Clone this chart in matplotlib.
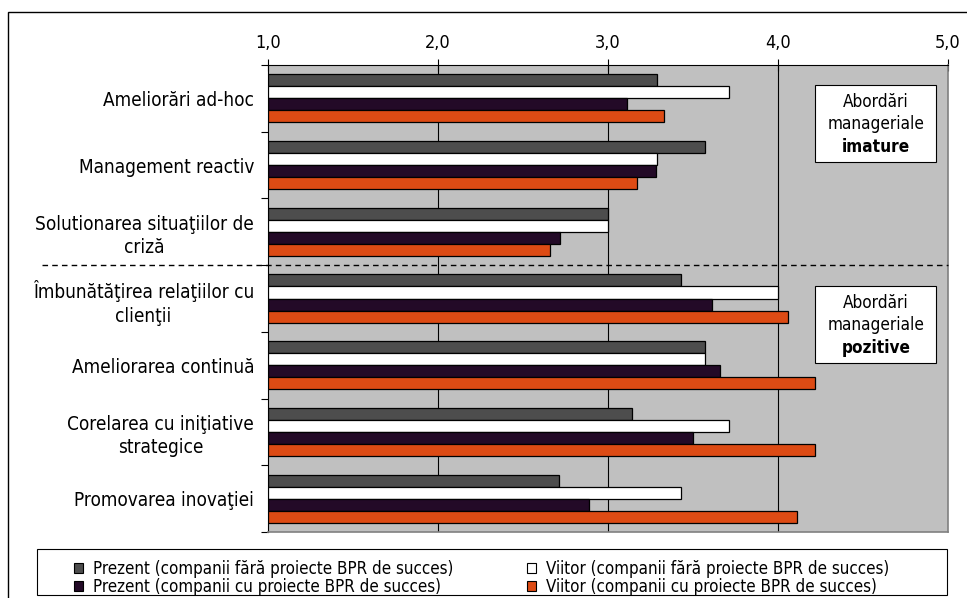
import matplotlib
matplotlib.use("Agg")
from matplotlib import pyplot as plt
from matplotlib.patches import Patch, Rectangle
from matplotlib.ticker import FixedLocator, FuncFormatter
import numpy as np

plt.rcParams['font.family'] = ['DejaVu Sans']
plt.rcParams['font.stretch'] = 'condensed'

# categorii (de sus in jos)
categories = [
    'Ameliorări ad-hoc',
    'Management reactiv',
    'Solutionarea situaţiilor de\ncriză',
    'Îmbunătăţirea relaţiilor cu\nclienţii',
    'Ameliorarea continuă',
    'Corelarea cu iniţiative\nstrategice',
    'Promovarea inovaţiei',
]

prezent_fara = [3.29, 3.57, 3.00, 3.43, 3.57, 3.14, 2.71]
viitor_fara = [3.71, 3.29, 3.00, 4.00, 3.57, 3.71, 3.43]
prezent_cu = [3.11, 3.28, 2.72, 3.61, 3.66, 3.50, 2.89]
viitor_cu = [3.33, 3.17, 2.66, 4.06, 4.22, 4.22, 4.11]

series_labels = [
    'Prezent (companii fără proiecte BPR de succes)',
    'Viitor (companii fără proiecte BPR de succes)',
    'Prezent (companii cu proiecte BPR de succes)',
    'Viitor (companii cu proiecte BPR de succes)',
]
series_colors = ['#4d4d4d', '#ffffff', '#230a27', '#dd4b14']
xticks = [1.0, 2.0, 3.0, 4.0, 5.0]

fig = plt.figure(figsize=(9.67, 5.98), dpi=100)
ax = fig.add_axes([268 / 967, 1 - 532 / 598, 680 / 967, 467 / 598])
ax.set_facecolor('#c0c0c0')

y = np.arange(len(categories))
bar_h = 0.18
data = [prezent_fara, viitor_fara, prezent_cu, viitor_cu]
for i, (vals, col) in enumerate(zip(data, series_colors)):
    offset = (i - 1.5) * bar_h
    ax.barh(y + offset, np.array(vals) - 1.0, left=1.0, height=bar_h,
            color=col, edgecolor='black', linewidth=0.9, zorder=3)

ax.set_xlim(1.0, 5.0)
ax.set_ylim(len(categories) - 0.5, -0.5)

# grila verticala
for xv in xticks[1:-1]:
    ax.axvline(xv, color='black', linewidth=0.8, zorder=1)

# axa x sus
ax.xaxis.tick_top()
ax.set_xticks(xticks)
ax.xaxis.set_major_formatter(FuncFormatter(lambda v, p: f'{v:.1f}'.replace('.', ',')))
ax.tick_params(axis='x', direction='inout', length=9, width=0.8, pad=5, labelsize=13)

# axa y: etichete la centru, gradatii intre categorii
ax.set_yticks(y)
ax.set_yticklabels(categories, fontsize=13.6, linespacing=1.3)
for lbl in ax.get_yticklabels():
    lbl.set_multialignment('center')
ax.yaxis.set_minor_locator(FixedLocator(np.arange(-0.5, len(categories), 1.0)))
ax.tick_params(axis='y', which='major', length=0, pad=10)
ax.tick_params(axis='y', which='minor', length=5, width=0.8, direction='out')

for side in ['left', 'top']:
    ax.spines[side].set_color('black')
    ax.spines[side].set_linewidth(0.8)
for side in ['right', 'bottom']:
    ax.spines[side].set_color('#808080')
    ax.spines[side].set_linewidth(1.2)

# linie punctata intre cele doua grupe
fig.add_artist(plt.Line2D([42 / 967, 948 / 967], [1 - 264.5 / 598, 1 - 264.5 / 598],
                          color='black', linestyle=(0, (4, 3)), linewidth=1.0))

# casete explicative
def note_box(y0, y1, word):
    ax.add_patch(Rectangle((4.22, y0), 0.71, y1 - y0, facecolor='white',
                           edgecolor='black', linewidth=0.8, zorder=4))
    yc = (y0 + y1) / 2
    ax.text(4.575, yc - 0.32, 'Abordări', ha='center', va='center', fontsize=12.3, zorder=5)
    ax.text(4.575, yc, 'manageriale', ha='center', va='center', fontsize=12.3, zorder=5)
    ax.text(4.575, yc + 0.35, word, ha='center', va='center', fontsize=12.3,
            fontweight='bold', zorder=5)

note_box(-0.2, 0.955, 'imature')
note_box(2.81, 3.97, 'pozitive')

# legenda
fig.add_artist(Rectangle((37 / 967, 1 - 595 / 598), 910 / 967, 46 / 598,
                         transform=fig.transFigure, facecolor='white',
                         edgecolor='black', linewidth=0.8))
handles = [Patch(facecolor=c, edgecolor='black', linewidth=0.8) for c in series_colors]
order = [0, 2, 1, 3]
fig.legend([handles[i] for i in order], [series_labels[i] for i in order],
           loc='upper left', bbox_to_anchor=(74 / 967, 1 - 560 / 598),
           ncol=2, frameon=False, fontsize=12.2, handlelength=0.55, handleheight=0.55,
           handletextpad=0.6, columnspacing=4.3, labelspacing=0.0, borderpad=0,
           borderaxespad=0)

# chenarul figurii
fig.add_artist(Rectangle((8 / 967, -0.01), 1.0, 1 - 12 / 598 + 0.01,
                         transform=fig.transFigure, facecolor='none',
                         edgecolor='black', linewidth=1.0))

fig.savefig('out.png', dpi=100)
